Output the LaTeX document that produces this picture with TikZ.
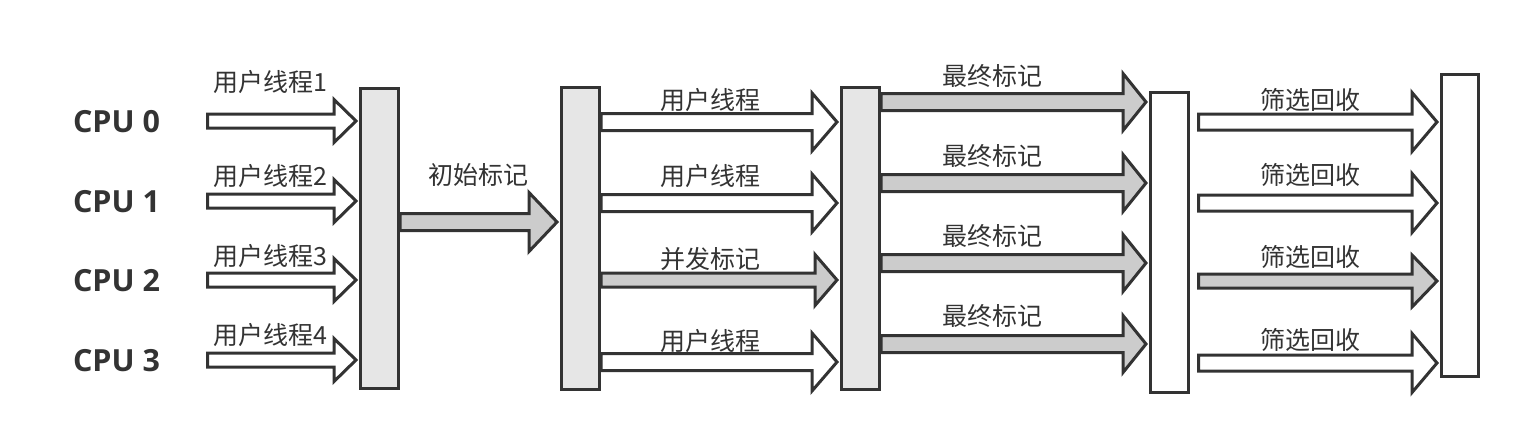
\documentclass[tikz,border=0pt]{standalone}
\usepackage{fontspec}
\setmainfont{Open Sans}
\newfontfamily\cjk{Noto Sans CJK SC}
\usetikzlibrary{calc}
\definecolor{ink}{HTML}{333333}
\definecolor{barfill}{HTML}{E6E6E6}
\definecolor{arrgray}{HTML}{CCCCCC}
\tikzset{
  bar/.style={draw=ink, line width=3pt, rectangle, inner sep=0pt, minimum width=38pt},
  blk/.style={draw=ink, line width=3pt, line join=miter, fill=#1},
  lbl/.style={text=ink, inner sep=0pt, font=\cjk\fontsize{25}{30}\selectfont},
  cpu/.style={text=ink, inner sep=0pt, font=\bfseries\fontsize{30.5}{36}\selectfont}
}
% #1 fill, #2 start, #3 end (tip x), #4 shaft half, #5 head half, #6 head length
\newcommand\blockarrow[6]{%
  \draw[blk=#1] let \p1=(#2), \p2=(#3) in
    (\x1,\y1+#4) -- (\x2-3pt-#6,\y1+#4) -- (\x2-3pt-#6,\y1+#5) -- (\x2-3pt,\y1)
    -- (\x2-3pt-#6,\y1-#5) -- (\x2-3pt-#6,\y1-#4) -- (\x1,\y1-#4) -- cycle;}
\begin{document}
\begin{tikzpicture}[x=1pt,y=-1pt]
\useasboundingbox (0,0) rectangle (1530,444);
\path (379.5,238.5) coordinate (b1c) (580.5,238.5) coordinate (b2c) (860.5,238.5) coordinate (b3c)
      (1169.5,242.5) coordinate (b4c) (1460,225.5) coordinate (b5c);
\node[bar, minimum height=300pt, fill=barfill] (bar1) at (b1c) {};
\node[bar, minimum height=302pt, fill=barfill] (bar2) at (b2c) {};
\node[bar, minimum height=302pt, fill=barfill] (bar3) at (b3c) {};
\node[bar, minimum height=300pt, fill=white] (bar4) at (b4c) {};
\node[bar, minimum height=302pt, minimum width=37pt, fill=white] (bar5) at (b5c) {};
% CPU arrows
\foreach \i/\yy in {0/121,1/201,2/280,3/360}{
  \coordinate (cs\i) at (207.5,\yy);
  \blockarrow{white}{cs\i}{bar1.west}{7pt}{21.5pt}{22pt}
}
% initial mark
\coordinate (im) at (bar1.east |- 0,222);
\blockarrow{arrgray}{im}{bar2.west}{8.5pt}{29.5pt}{28pt}
% bar2 arrows
\foreach \i/\yy/\ff/\ss/\hh/\ll in {1/122/white/8.5pt/29pt/25pt,2/203/white/8.5pt/29pt/25pt,3/280/arrgray/7pt/25.5pt/22pt,4/362/white/8.5pt/29pt/25pt}{
  \coordinate (m\i) at (bar2.east |- 0,\yy);
  \blockarrow{\ff}{m\i}{bar3.west}{\ss}{\hh}{\ll}
}
% bar3 arrows
\foreach \i/\yy in {1/102,2/183,3/263,4/344}{
  \coordinate (f\i) at (bar3.east |- 0,\yy);
  \blockarrow{arrgray}{f\i}{bar4.west}{8.5pt}{28.5pt}{23pt}
}
% bar4 arrows
\foreach \i/\yy/\ff/\ss/\hh in {1/122/white/8pt/29.5pt,2/203/white/8pt/29.5pt,3/281/arrgray/7pt/26pt,4/363/white/8pt/29.5pt}{
  \coordinate (r\i) at (1198.5,\yy);
  \blockarrow{\ff}{r\i}{bar5.west}{\ss}{\hh}{25pt}
}
% redraw bars on top
\node[bar, minimum height=300pt, fill=barfill] at (b1c) {};
\node[bar, minimum height=302pt, fill=barfill] at (b2c) {};
\node[bar, minimum height=302pt, fill=barfill] at (b3c) {};
\node[bar, minimum height=300pt, fill=white] at (b4c) {};
\node[bar, minimum height=302pt, minimum width=37pt, fill=white] at (b5c) {};
% CPU labels
\node[cpu] (cpu0) at (116.5,122) {CPU 0};
\node[cpu] (cpu1) at (116.5,202) {CPU 1};
\node[cpu] (cpu2) at (116.5,281) {CPU 2};
\node[cpu] (cpu3) at (116.5,361) {CPU 3};
% labels
\node[lbl] (u1) at (270,82.5) {用户线程1};
\node[lbl] (u2) at (270,176) {用户线程2};
\node[lbl] (u3) at (270,256) {用户线程3};
\node[lbl] (u4) at (270,335) {用户线程4};
\node[lbl] (init) at (478,175) {初始标记};
\node[lbl] (t1) at (710,100) {用户线程};
\node[lbl] (t2) at (710,176) {用户线程};
\node[lbl] (t3) at (710,259) {并发标记};
\node[lbl] (t4) at (710,341) {用户线程};
\node[lbl] (z1) at (992,76) {最终标记};
\node[lbl] (z2) at (992,156) {最终标记};
\node[lbl] (z3) at (992,236) {最终标记};
\node[lbl] (z4) at (992,316) {最终标记};
\node[lbl] (s1) at (1310,100) {筛选回收};
\node[lbl] (s2) at (1310,175) {筛选回收};
\node[lbl] (s3) at (1310,257) {筛选回收};
\node[lbl] (s4) at (1310,340) {筛选回收};
\end{tikzpicture}
\end{document}
